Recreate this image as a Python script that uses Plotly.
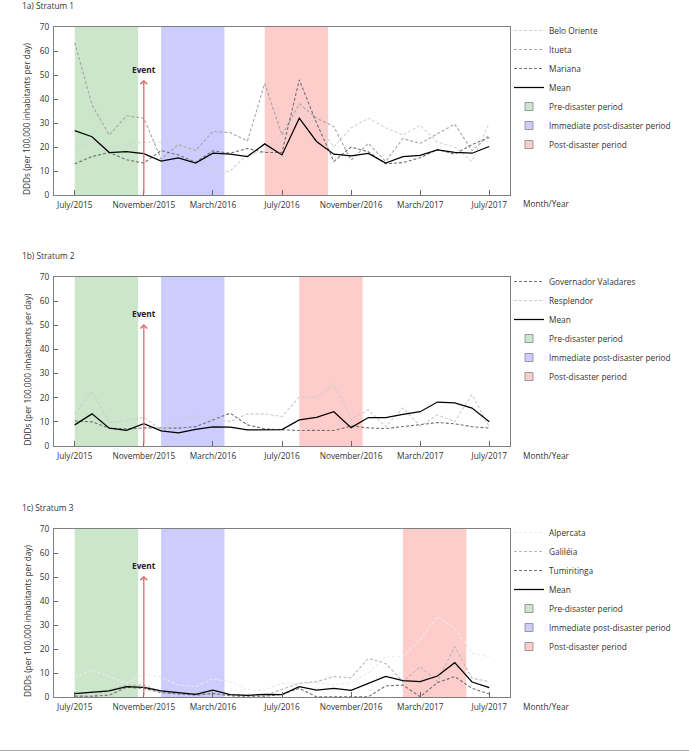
import plotly.graph_objects as go
from plotly.subplots import make_subplots

MONTHS = [
    "July/2015", "August/2015", "September/2015", "October/2015", "November/2015",
    "December/2015", "January/2016", "February/2016", "March/2016", "April/2016",
    "May/2016", "June/2016", "July/2016", "August/2016", "September/2016",
    "October/2016", "November/2016", "December/2016", "January/2017", "February/2017",
    "March/2017", "April/2017", "May/2017", "June/2017", "July/2017",
]

# stratum 1
BELO_ORIENTE = [20, 22, 20, 21, 22, 22, 21, 19, 9.5, 10, 17, 18, 26, 35, 30, 20, 28, 32, 28, 25, 29, 22, 20, 14, 30]
ITUETA = [63.5, 37.5, 25, 33, 32, 15, 21, 18.5, 26.5, 26, 22.5, 46.5, 25, 38, 32, 28.5, 14.5, 21.5, 14, 23.5, 21.5, 25.5, 29.5, 18.5, 25]
MARIANA = [13, 16, 17.7, 14.7, 13.3, 18.5, 16.7, 13.6, 18.4, 17.4, 19.4, 17.7, 17.7, 48, 30, 14, 20, 18, 13, 13.5, 15.5, 19, 17, 21, 24]
MEAN_1 = [26.8, 24.3, 17.7, 18.1, 17.2, 14.1, 15.5, 13.3, 17.4, 17.0, 16.0, 21.3, 16.7, 32.0, 22.3, 17.0, 16.3, 17.3, 13.3, 16.0, 16.5, 18.8, 17.8, 17.4, 20.2]

# stratum 2
GOV_VALADARES = [10.4, 10, 7.4, 7.1, 7.5, 7.4, 7.4, 8, 10.8, 13.6, 8.75, 7.1, 6.7, 6.4, 6.5, 6.4, 8.3, 7.5, 7.2, 8, 9, 9.7, 9.2, 8, 7.4]
RESPLENDOR = [13.3, 22.6, 9.7, 10.6, 11.9, 6.7, 10.8, 12.5, 11.5, 10.1, 13.3, 13.3, 12.2, 20.3, 20.1, 25.8, 10.8, 15, 8, 15.7, 8.3, 12.9, 10.1, 21.3, 8]
MEAN_2 = [8.75, 13.3, 7.4, 6.5, 9.2, 6.25, 5.4, 6.9, 7.9, 7.8, 6.7, 6.7, 6.8, 10.8, 11.9, 14.2, 7.6, 11.8, 11.8, 13.1, 14.2, 18.2, 17.9, 15.7, 10]

# stratum 3
ALPERCATA = [8.2, 11.3, 8.5, 5.7, 9.6, 8.2, 5, 4.3, 7.5, 6.4, 3.2, 2.9, 5.7, 5.5, 6, 5, 6, 10, 16.8, 16.8, 24, 33.5, 28.6, 18.2, 16.8]
GALILEIA = [0.1, 0.4, 2.9, 5, 5, 2.2, 1.5, 1.25, 1.25, 0.8, 0.5, 0.5, 3.2, 5.7, 6.4, 8.5, 8, 16.1, 14, 6.4, 12.6, 6.4, 21, 7.8, 6.4]
TUMIRITINGA = [0.4, 0.3, 0.8, 4, 3.6, 1.8, 1.25, 0.8, 1.5, 0.5, 0.3, 0.3, 1.1, 3.6, 0.1, 0.1, 0.1, 0.1, 4.6, 5, 0.1, 6, 8.5, 3.6, 1.25]
MEAN_3 = [1.4, 2.1, 2.6, 4.3, 4.0, 2.6, 1.8, 1.1, 2.9, 1.0, 0.7, 1.1, 1.0, 4.3, 2.9, 3.6, 2.8, 5.7, 8.6, 6.8, 6.4, 8.75, 14.3, 6.25, 3.9]

# periods, in months since July/2015
PRE_PERIOD = (0, 3.67)
IMMEDIATE_PERIOD = (5, 8.67)
POST_PERIODS = [(11, 14.67), (13, 16.67), (19, 22.67)]
EVENT_MONTH = 4

FONT = "Open Sans"
FS = 8.3
TEXT = "#333333"
W, H = 689, 751

x = list(range(len(MONTHS)))
tick_idx = list(range(0, len(MONTHS), 4))

panels = [
    {
        "title": "1a) Stratum 1",
        "series": [("Belo Oriente", BELO_ORIENTE, "#d4d4d4"), ("Itueta", ITUETA, "#a6a6a6"), ("Mariana", MARIANA, "#707070")],
        "mean": MEAN_1,
        "top": 27, "bottom": 195, "event_y": 48, "legend_top": 16,
    },
    {
        "title": "1b) Stratum 2",
        "series": [("Governador Valadares", GOV_VALADARES, "#707070"), ("Resplendor", RESPLENDOR, "#cccccc")],
        "mean": MEAN_2,
        "top": 277, "bottom": 446, "event_y": 50.5, "legend_top": 267,
    },
    {
        "title": "1c) Stratum 3",
        "series": [("Alpercata", ALPERCATA, "#ebebeb"), ("Galiléia", GALILEIA, "#b8b8b8"), ("Tumiritinga", TUMIRITINGA, "#707070")],
        "mean": MEAN_3,
        "top": 529, "bottom": 697, "event_y": 50.5, "legend_top": 518,
    },
]

fig = make_subplots(rows=3, cols=1)
shapes = []
annotations = []
legends = {}

for i, p in enumerate(panels):
    row = i + 1
    leg = "legend" if i == 0 else f"legend{row}"
    xa = "x" if i == 0 else f"x{row}"
    ya = "y" if i == 0 else f"y{row}"

    for name, vals, color in p["series"]:
        fig.add_trace(
            go.Scatter(x=x, y=vals, mode="lines", name=name, legend=leg,
                       line=dict(color=color, width=1.1, dash="3px,2px")),
            row=row, col=1,
        )
    fig.add_trace(
        go.Scatter(x=x, y=p["mean"], mode="lines", name="Mean", legend=leg,
                   line=dict(color="black", width=1.25)),
        row=row, col=1,
    )

    periods = [
        ("Pre-disaster period", PRE_PERIOD, "rgba(0,128,0,0.2)"),
        ("Immediate post-disaster period", IMMEDIATE_PERIOD, "rgba(0,0,255,0.2)"),
        ("Post-disaster period", POST_PERIODS[i], "rgba(255,0,0,0.2)"),
    ]
    for name, (x0, x1), color in periods:
        shapes.append(dict(
            type="rect", xref=xa, yref=f"{ya} domain", x0=x0, x1=x1, y0=0, y1=1,
            fillcolor=color, line=dict(width=0), layer="below",
        ))
        # legend-only entry for the shaded period
        fig.add_trace(
            go.Scatter(x=[None], y=[None], mode="markers", name=name, legend=leg,
                       marker=dict(symbol="square", size=8, color=color,
                                   line=dict(color="#9a9a9a", width=1))),
            row=row, col=1,
        )

    # event arrow
    annotations.append(dict(
        xref=xa, yref=ya, axref=xa, ayref=ya, x=EVENT_MONTH, y=p["event_y"],
        ax=EVENT_MONTH, ay=0, showarrow=True, arrowhead=4, arrowsize=1,
        arrowwidth=1.3, arrowcolor="#e46a6a", text="",
    ))
    annotations.append(dict(
        xref=xa, yref=ya, x=EVENT_MONTH, y=p["event_y"] + 1.3, yanchor="bottom",
        text="<b>Event</b>", showarrow=False, font=dict(size=FS, color="#222222"),
    ))

    top, bottom = p["top"], p["bottom"]
    annotations.append(dict(
        xref="paper", yref="paper", x=20 / W, y=1 - (top - 22) / H, xanchor="left",
        yanchor="middle", text=p["title"], showarrow=False, font=dict(size=FS, color=TEXT),
    ))
    annotations.append(dict(
        xref="paper", yref="paper", x=27 / W, y=1 - (top + bottom + 16) / 2 / H,
        xanchor="center", yanchor="middle", textangle=-90,
        text="DDDs (per 100,000 inhabitants per day)", showarrow=False,
        font=dict(size=FS, color=TEXT),
    ))
    annotations.append(dict(
        xref="paper", yref="paper", x=521 / W, y=1 - (bottom + 9) / H,
        xanchor="left", yanchor="middle", text="Month/Year", showarrow=False,
        font=dict(size=FS, color=TEXT),
    ))

    fig.update_xaxes(
        row=row, col=1, domain=[54 / W, 510 / W], range=[-1.2, 25.2], automargin=False,
        tickvals=tick_idx, ticktext=[MONTHS[k] for k in tick_idx],
        ticks="inside", ticklen=5, tickcolor="#666666", showgrid=False, zeroline=False,
        showline=True, linecolor="#808080", linewidth=1.2, mirror=True,
        ticklabelstandoff=2, tickfont=dict(size=FS, color=TEXT),
    )
    fig.update_yaxes(
        row=row, col=1, domain=[1 - bottom / H, 1 - top / H], range=[0, 70], automargin=False,
        tickvals=list(range(0, 71, 10)), ticks="inside", ticklen=4, tickcolor="#666666",
        showgrid=False, zeroline=False, showline=True, linecolor="#808080",
        linewidth=1.2, mirror=True, ticklabelstandoff=2,
        tickfont=dict(size=FS, color=TEXT),
    )
    legends[leg] = dict(
        font=dict(family=FONT, size=FS, color=TEXT), bgcolor="rgba(0,0,0,0)",
        xanchor="left", yanchor="top", x=509 / W, y=1 - p["legend_top"] / H,
        tracegroupgap=0,
    )

# thin separator along the bottom
shapes.append(dict(type="line", xref="paper", yref="paper", x0=0, x1=1, y0=0.5 / H, y1=0.5 / H,
                   line=dict(color="#b0b0b0", width=1)))

fig.update_layout(
    width=W, height=H,
    margin=dict(l=0, r=0, t=0, b=0),
    paper_bgcolor="white", plot_bgcolor="white",
    font=dict(family=FONT, size=FS, color=TEXT),
    shapes=shapes, annotations=annotations,
    **legends,
)

# page body has a default 8px margin; drop it so the figure fills the window
fig.write_html("out.html", config={"displayModeBar": False},
               post_script="document.body.style.margin = '0px';")
